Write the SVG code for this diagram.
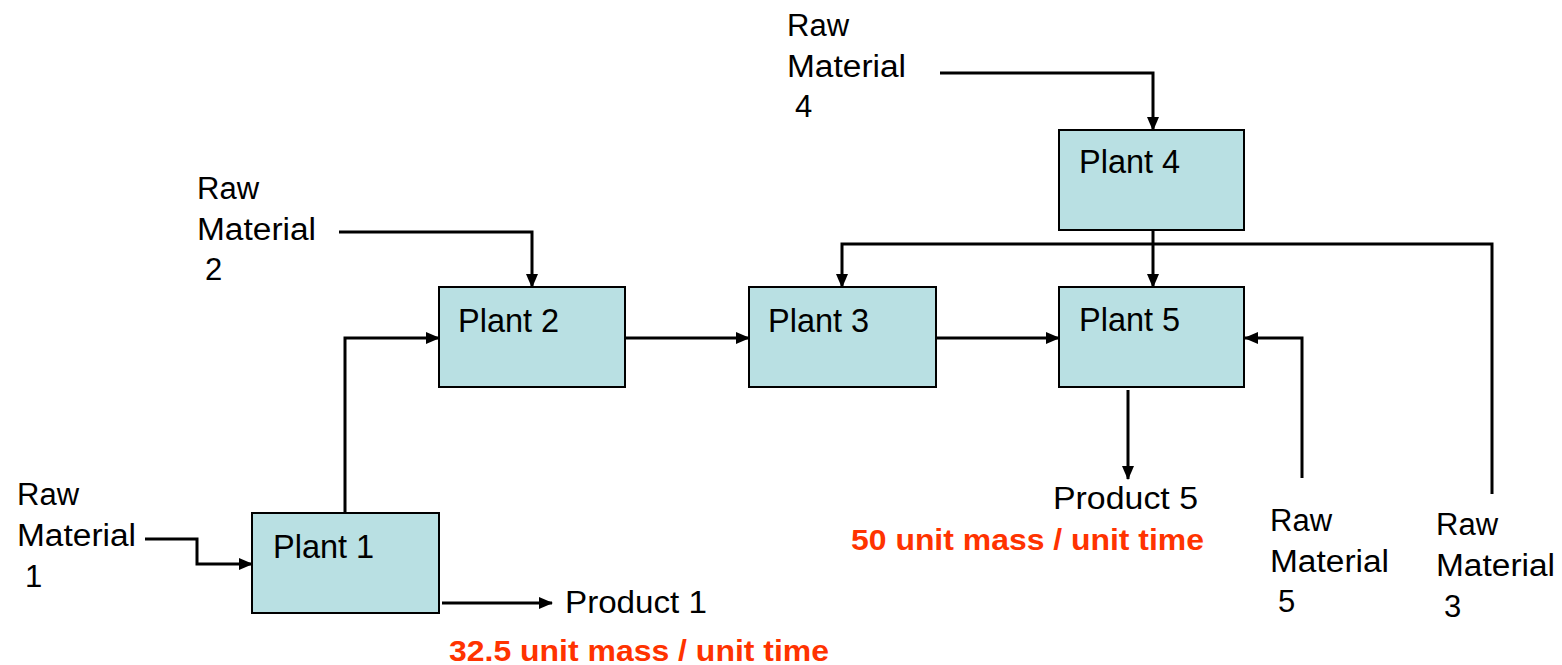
<svg xmlns="http://www.w3.org/2000/svg" width="1562" height="665" viewBox="0 0 1562 665">
<style>
.box{fill:#B9E0E3;stroke:#000;stroke-width:2}
.t{font-family:"Liberation Sans",Arial,sans-serif;font-size:31px;fill:#000}
.pl{font-family:"Liberation Sans",Arial,sans-serif;font-size:32.5px;fill:#000}
.r{font-family:"Liberation Sans",Arial,sans-serif;font-size:29px;font-weight:bold;fill:#FF3300}
.c{fill:none;stroke:#000;stroke-width:3;marker-end:url(#ah)}
</style>
<defs>
<marker id="ah" markerUnits="userSpaceOnUse" markerWidth="14" markerHeight="14" viewBox="0 0 14 14" refX="13" refY="7" orient="auto">
<path d="M0,1 L14,7 L0,13 Z" fill="#000"/>
</marker>
</defs>
<g id="connectors">
<path class="c" d="M145,539 H197 V564 H252"/>
<path class="c" d="M345,513 V338 H439"/>
<path class="c" d="M442,603 H552"/>
<path class="c" d="M339,232 H532 V287"/>
<path class="c" d="M626,338 H749"/>
<path class="c" d="M937,338 H1059"/>
<path class="c" d="M940,73 H1153 V130"/>
<path class="c" d="M1153,231 V287"/>
<path class="c" d="M1492,494 V244 H842 V287"/>
<path class="c" d="M1302,478 V338 H1245"/>
<path class="c" d="M1128,390 V479"/>
</g>
<g id="plant1"><rect class="box" x="252" y="513" width="187" height="100"/><text class="pl" x="273" y="558">Plant 1</text></g>
<g id="plant2"><rect class="box" x="439" y="287" width="186" height="100"/><text class="pl" x="458" y="332">Plant 2</text></g>
<g id="plant3"><rect class="box" x="749" y="287" width="187" height="100"/><text class="pl" x="768" y="332">Plant 3</text></g>
<g id="plant4"><rect class="box" x="1059" y="130" width="185" height="100"/><text class="pl" x="1079" y="173">Plant 4</text></g>
<g id="plant5"><rect class="box" x="1059" y="287" width="185" height="100"/><text class="pl" x="1079" y="331">Plant 5</text></g>
<g id="rm1"><text class="t" x="17" y="505">Raw</text><text class="t" x="17" y="546" textLength="119" lengthAdjust="spacingAndGlyphs">Material</text><text class="t" x="25" y="587">1</text></g>
<g id="rm2"><text class="t" x="197" y="199">Raw</text><text class="t" x="197" y="240" textLength="119" lengthAdjust="spacingAndGlyphs">Material</text><text class="t" x="205" y="280">2</text></g>
<g id="rm4"><text class="t" x="787" y="36">Raw</text><text class="t" x="787" y="77" textLength="119" lengthAdjust="spacingAndGlyphs">Material</text><text class="t" x="795" y="117">4</text></g>
<g id="rm5"><text class="t" x="1270" y="531">Raw</text><text class="t" x="1270" y="572" textLength="119" lengthAdjust="spacingAndGlyphs">Material</text><text class="t" x="1278" y="612">5</text></g>
<g id="rm3"><text class="t" x="1436" y="535">Raw</text><text class="t" x="1436" y="576" textLength="119" lengthAdjust="spacingAndGlyphs">Material</text><text class="t" x="1444" y="617">3</text></g>
<g id="product1"><text class="t" x="565" y="613" textLength="142" lengthAdjust="spacingAndGlyphs">Product 1</text><text class="r" x="449" y="661" textLength="380" lengthAdjust="spacingAndGlyphs">32.5 unit mass / unit time</text></g>
<g id="product5"><text class="t" x="1053" y="509" textLength="145" lengthAdjust="spacingAndGlyphs">Product 5</text><text class="r" x="851" y="550" textLength="353" lengthAdjust="spacingAndGlyphs">50 unit mass / unit time</text></g>
</svg>
